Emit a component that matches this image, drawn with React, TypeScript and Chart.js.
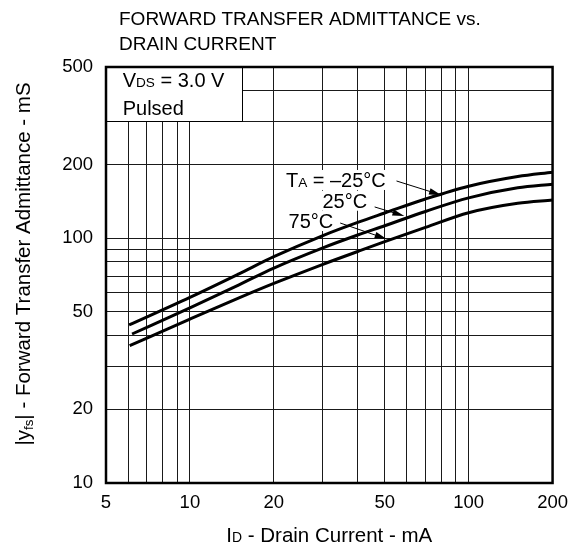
import React, { useEffect, useRef } from 'react';
import { Chart, registerables } from 'chart.js';

Chart.register(...registerables);

const FONT = '"Liberation Sans", Arial, Helvetica, sans-serif';

// Axis grid / tick values
const xGridValues = [5, 6, 7, 8, 9, 10, 20, 30, 40, 50, 60, 70, 80, 90, 100, 200];
const xTickLabels = [5, 10, 20, 50, 100, 200];
const yGridValues = [10, 20, 30, 40, 50, 60, 70, 80, 90, 100, 200, 300, 400, 500];
const yTickLabels = [10, 20, 50, 100, 200, 500];

// Series: I_D (mA) and |yfs| (mS)
const idMinus25 = [6.05, 10, 15, 20, 30, 40, 50, 70, 100, 150, 200];
const yfsMinus25 = [44.2, 57.3, 71.5, 84, 102.5, 116, 126.7, 144.5, 163, 178.5, 186];
const id25 = [6.2, 10, 15, 20, 30, 40, 50, 70, 100, 150, 200];
const yfs25 = [40.6, 51.9, 64.5, 75.5, 91.3, 103, 112.4, 128.5, 146, 160.5, 166];
const id75 = [6.08, 10, 15, 20, 30, 40, 50, 70, 100, 150, 200];
const yfs75 = [36.4, 46.7, 57, 65.3, 78.2, 88.2, 96.7, 110.6, 127, 138.8, 143];

type Part = { t: string; s?: number; dy?: number };

function richWidth(ctx: CanvasRenderingContext2D, parts: Part[], size: number) {
  let w = 0;
  for (const p of parts) {
    ctx.font = `${size * (p.s ?? 1)}px ${FONT}`;
    w += ctx.measureText(p.t).width;
  }
  return w;
}

function drawRich(ctx: CanvasRenderingContext2D, parts: Part[], x: number, y: number, size: number) {
  let cx = x;
  ctx.textAlign = 'left';
  ctx.textBaseline = 'alphabetic';
  ctx.fillStyle = '#000';
  for (const p of parts) {
    ctx.font = `${size * (p.s ?? 1)}px ${FONT}`;
    ctx.fillText(p.t, cx, y + (p.dy ?? 0));
    cx += ctx.measureText(p.t).width;
  }
  return cx - x;
}

function arrow(ctx: CanvasRenderingContext2D, x1: number, y1: number, x2: number, y2: number) {
  const ang = Math.atan2(y2 - y1, x2 - x1);
  const len = 12;
  const hw = 3.2;
  ctx.save();
  ctx.strokeStyle = '#000';
  ctx.fillStyle = '#000';
  ctx.lineWidth = 1;
  ctx.beginPath();
  ctx.moveTo(x1, y1);
  ctx.lineTo(x2 - Math.cos(ang) * len * 0.8, y2 - Math.sin(ang) * len * 0.8);
  ctx.stroke();
  ctx.beginPath();
  ctx.moveTo(x2, y2);
  ctx.lineTo(x2 - Math.cos(ang) * len + Math.sin(ang) * hw, y2 - Math.sin(ang) * len - Math.cos(ang) * hw);
  ctx.lineTo(x2 - Math.cos(ang) * len - Math.sin(ang) * hw, y2 - Math.sin(ang) * len + Math.cos(ang) * hw);
  ctx.closePath();
  ctx.fill();
  ctx.restore();
}

// Annotation anchors in data coordinates
const labels = [
  { parts: [{ t: 'T' }, { t: 'A', s: 0.68 }, { t: ' = \u201325\u00B0C' }] as Part[], x: 22.1, y: 161.8 },
  { parts: [{ t: '25\u00B0C' }] as Part[], x: 29.9, y: 133.1 },
  { parts: [{ t: '75\u00B0C' }] as Part[], x: 22.6, y: 110.0 },
];
const arrows = [
  { x1: 55.1, y1: 171.2, x2: 79.6, y2: 150.1 },
  { x1: 46.0, y1: 134.1, x2: 58.8, y2: 123.2 },
  { x1: 34.6, y1: 115.3, x2: 50.8, y2: 99.2 },
];

const mkData = (xs: number[], ys: number[]) => xs.map((x, i) => ({ x, y: ys[i] }));

const gridColor = (edge: number[]) => (ctx: any) =>
  ctx.tick && edge.includes(ctx.tick.value) ? 'rgba(0,0,0,0)' : '#1a1a1a';

export default function App() {
  const ref = useRef<HTMLCanvasElement>(null);

  useEffect(() => {
    if (!ref.current) return;

    const overlay = {
      id: 'overlay',
      beforeDatasetsDraw(chart: any) {
        const ctx: CanvasRenderingContext2D = chart.ctx;
        const xs = chart.scales.x;
        const ys = chart.scales.y;
        const ca = chart.chartArea;
        ctx.save();
        // conditions box
        const boxBottom = ys.getPixelForValue(300);
        const boxRight = 242;
        ctx.fillStyle = '#fff';
        ctx.fillRect(ca.left, ca.top, boxRight - ca.left, boxBottom - ca.top);
        ctx.strokeStyle = '#000';
        ctx.lineWidth = 1;
        ctx.beginPath();
        ctx.moveTo(Math.round(boxRight) + 0.5, ca.top);
        ctx.lineTo(Math.round(boxRight) + 0.5, Math.round(boxBottom) + 0.5);
        ctx.lineTo(ca.left, Math.round(boxBottom) + 0.5);
        ctx.stroke();
        drawRich(ctx, [{ t: 'V' }, { t: 'DS', s: 0.68 }, { t: ' = 3.0 V' }], 122.7, 86.7, 20);
        drawRich(ctx, [{ t: 'Pulsed' }], 122.7, 115, 20);

        // curve labels with white backgrounds
        for (const l of labels) {
          const px = xs.getPixelForValue(l.x);
          const py = ys.getPixelForValue(l.y);
          const w = richWidth(ctx, l.parts, 20);
          ctx.fillStyle = '#fff';
          ctx.fillRect(px - 3, py - 17, w + 6, 20);
          drawRich(ctx, l.parts, px, py, 20);
        }
        for (const a of arrows) {
          arrow(
            ctx,
            xs.getPixelForValue(a.x1),
            ys.getPixelForValue(a.y1),
            xs.getPixelForValue(a.x2),
            ys.getPixelForValue(a.y2)
          );
        }
        ctx.restore();
      },
      afterDraw(chart: any) {
        const ctx: CanvasRenderingContext2D = chart.ctx;
        const ca = chart.chartArea;
        ctx.save();
        // frame
        ctx.strokeStyle = '#000';
        ctx.lineWidth = 2.5;
        ctx.strokeRect(ca.left, ca.top, ca.right - ca.left, ca.bottom - ca.top);
        // title
        drawRich(ctx, [{ t: 'FORWARD TRANSFER ADMITTANCE vs.' }], 119, 24.5, 19);
        drawRich(ctx, [{ t: 'DRAIN CURRENT' }], 119, 49.5, 19);
        // x axis title
        const xParts: Part[] = [{ t: 'I' }, { t: 'D', s: 0.68 }, { t: ' - Drain Current - mA' }];
        const xw = richWidth(ctx, xParts, 20.5);
        drawRich(ctx, xParts, (ca.left + ca.right) / 2 - xw / 2, 541.5, 20.5);
        // y axis title
        const yParts: Part[] = [{ t: '|y' }, { t: 'fs', s: 0.65, dy: 3 }, { t: '| - Forward Transfer Admittance - mS' }];
        const yw = richWidth(ctx, yParts, 20.5);
        ctx.translate(30, 264);
        ctx.rotate(-Math.PI / 2);
        drawRich(ctx, yParts, -yw / 2, 0, 20.5);
        ctx.restore();
      },
    };

    const chart = new Chart(ref.current, {
      type: 'scatter',
      data: {
        datasets: [
          { data: mkData(idMinus25, yfsMinus25) },
          { data: mkData(id25, yfs25) },
          { data: mkData(id75, yfs75) },
        ].map((d) => ({
          ...d,
          showLine: true,
          borderColor: '#000',
          backgroundColor: '#000',
          borderWidth: 3,
          pointRadius: 0,
          cubicInterpolationMode: 'monotone' as const,
          fill: false,
        })),
      },
      options: {
        responsive: false,
        animation: false,
        devicePixelRatio: 1,
        layout: { padding: { left: 0, right: 19, top: 67, bottom: 0 } },
        plugins: {
          legend: { display: false },
          tooltip: { enabled: false },
          title: { display: false },
        },
        scales: {
          x: {
            type: 'logarithmic',
            min: 5,
            max: 200,
            position: 'bottom',
            afterBuildTicks: (s: any) => {
              s.ticks = xGridValues.map((v) => ({ value: v }));
            },
            afterFit: (s: any) => {
              s.height = 65;
            },
            ticks: {
              autoSkip: false,
              maxRotation: 0,
              minRotation: 0,
              padding: 9,
              color: '#000',
              font: { family: FONT, size: 18.5 },
              callback: (v: any) => (xTickLabels.includes(Number(v)) ? String(v) : ''),
            },
            grid: { drawTicks: false, color: gridColor([5, 200]) as any, lineWidth: 1 },
            border: { display: false },
          },
          y: {
            type: 'logarithmic',
            min: 10,
            max: 500,
            position: 'left',
            afterBuildTicks: (s: any) => {
              s.ticks = yGridValues.map((v) => ({ value: v }));
            },
            afterFit: (s: any) => {
              s.width = 106;
            },
            ticks: {
              autoSkip: false,
              padding: 13,
              color: '#000',
              font: { family: FONT, size: 18.5 },
              callback: (v: any) => (yTickLabels.includes(Number(v)) ? String(v) : ''),
            },
            grid: { drawTicks: false, color: gridColor([10, 500]) as any, lineWidth: 1 },
            border: { display: false },
          },
        },
      },
      plugins: [overlay],
    });

    return () => chart.destroy();
  }, []);

  return (
    <div style={{ position: 'fixed', left: 0, top: 0, width: 577, height: 548, background: '#fff' }}>
      <canvas ref={ref} width={577} height={548} style={{ width: 577, height: 548, display: 'block' }} />
    </div>
  );
}
